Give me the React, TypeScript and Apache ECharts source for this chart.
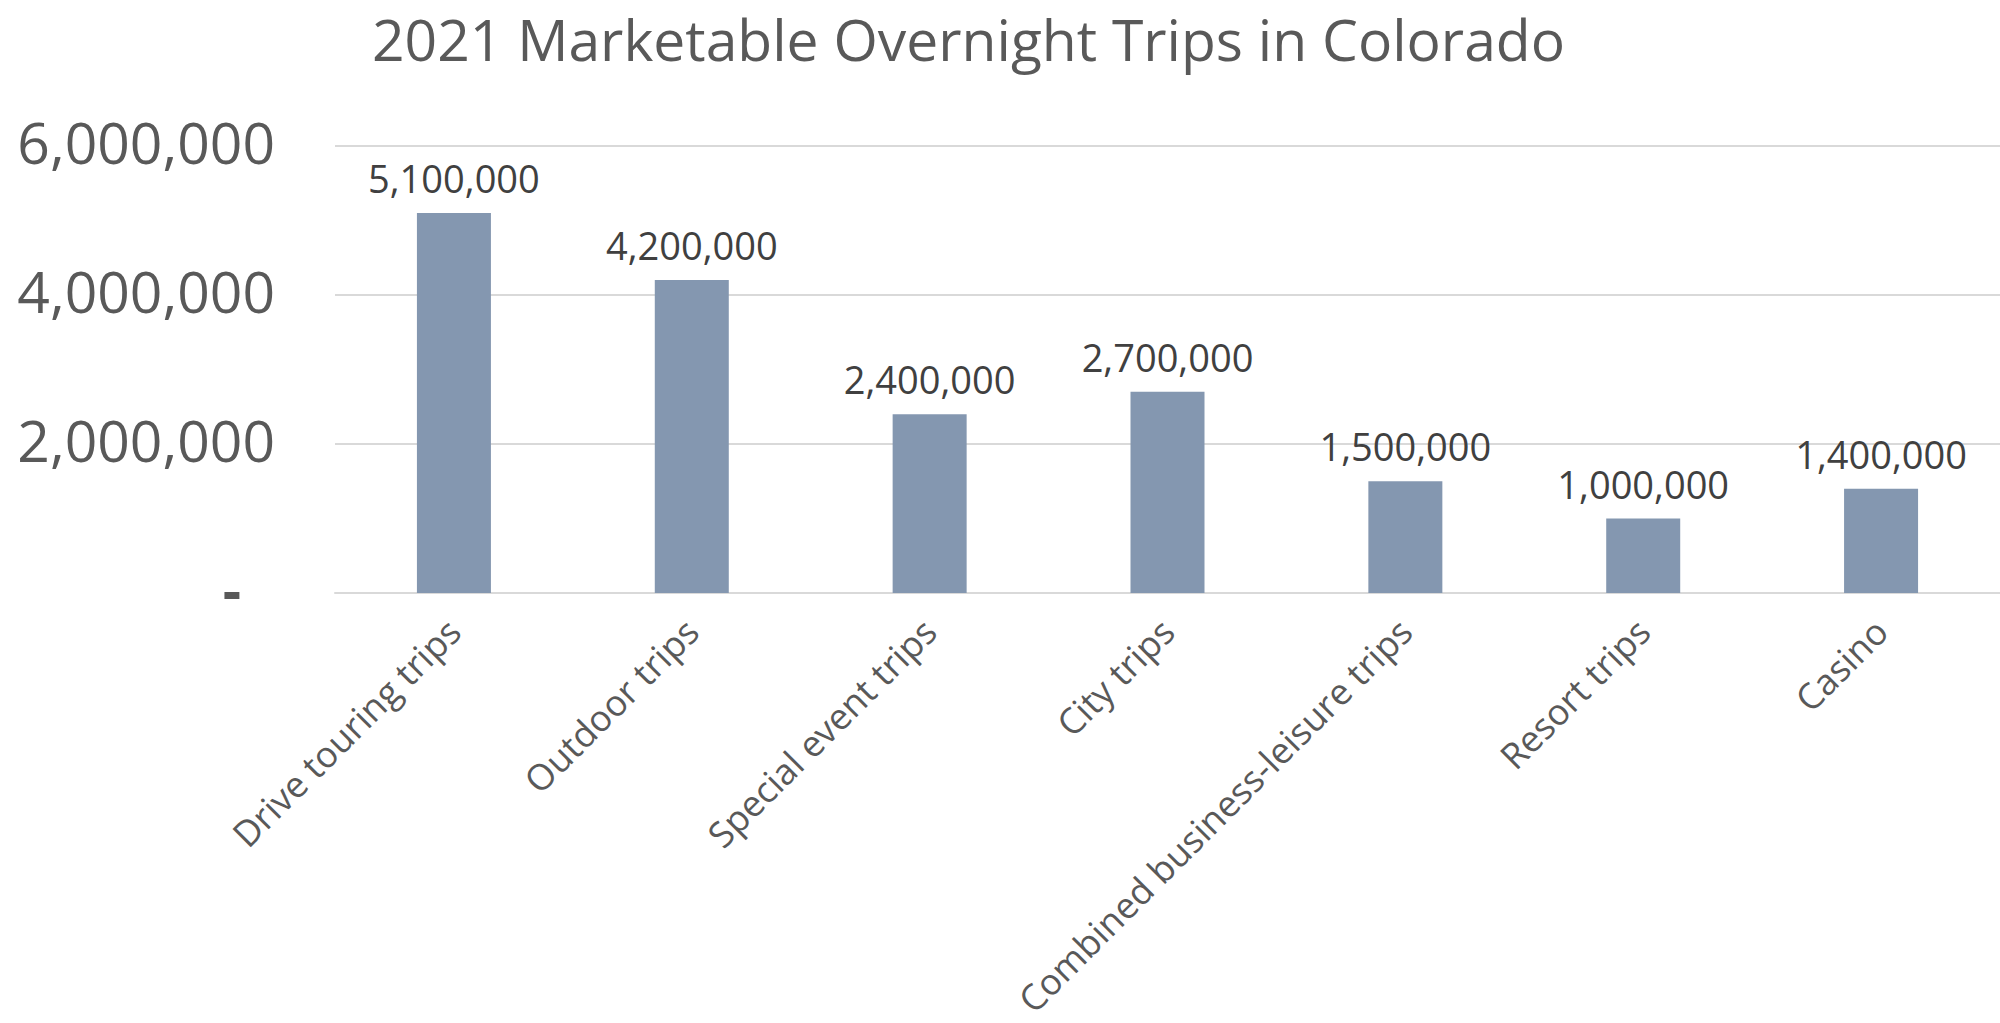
import React, { useEffect, useRef } from "react";
import * as echarts from "echarts";

const categories = [
  "Drive touring trips",
  "Outdoor trips",
  "Special event trips",
  "City trips",
  "Combined business-leisure trips",
  "Resort trips",
  "Casino",
];
const trips = [5100000, 4200000, 2400000, 2700000, 1500000, 1000000, 1400000];
const titleText = "2021 Marketable Overnight Trips in Colorado";

const FONT = "'Open Sans', 'Noto Sans', sans-serif";
const fmt = (v: number) => v.toLocaleString("en-US");

export default function App() {
  const ref = useRef<HTMLDivElement>(null);
  useEffect(() => {
    if (!ref.current) return;
    const chart = echarts.init(ref.current, null, { renderer: "svg" });
    chart.setOption({
      animation: false,
      backgroundColor: "#ffffff",
      title: {
        text: titleText,
        left: 372,
        top: 10,
        padding: 0,
        textStyle: { fontFamily: FONT, fontSize: 57, fontWeight: "normal", color: "#595959", lineHeight: 58 },
      },
      grid: { left: 335, right: 0, top: 146, bottom: 430, containLabel: false },
      xAxis: {
        type: "category",
        data: categories,
        axisLine: { show: true, lineStyle: { color: "#D9D9D9", width: 2 } },
        axisTick: { show: false },
        axisLabel: {
          rotate: 45,
          interval: 0,
          margin: 32,
          fontFamily: FONT,
          fontSize: 36,
          color: "#595959",
        },
      },
      yAxis: {
        type: "value",
        min: 0,
        max: 6000000,
        interval: 2000000,
        axisLine: { show: false },
        axisTick: { show: false },
        splitLine: { lineStyle: { color: "#D9D9D9", width: 2 } },
        axisLabel: {
          margin: 60,
          fontFamily: FONT,
          fontSize: 57,
          color: "#595959",
          padding: [0, 0, 8, 0],
          formatter: (v: number) => (v === 0 ? "{z|-}" : fmt(v)),
          rich: { z: { fontFamily: FONT, fontSize: 57, fontWeight: "bold", color: "#595959", padding: [0, 34, 0, 0] } },
        },
      },
      series: [
        {
          type: "bar",
          data: trips,
          barWidth: 74,
          itemStyle: { color: "#8497B0" },
          label: {
            show: true,
            position: "top",
            distance: 16,
            fontFamily: FONT,
            fontSize: 38,
            color: "#404040",
            formatter: (p: any) => fmt(p.value),
          },
        },
      ],
    });
    return () => chart.dispose();
  }, []);
  return <div ref={ref} style={{ width: 2000, height: 1023, position: "absolute", left: 0, top: 0 }} />;
}
